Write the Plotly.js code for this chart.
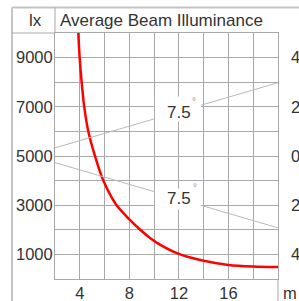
<!DOCTYPE html>
<html><head><meta charset="utf-8">
<script src="https://cdn.plot.ly/plotly-3.0.1.min.js"></script>
<style>html,body{margin:0;padding:0;background:#fff}#chart{width:299px;height:301px}</style>
</head><body><div id="chart"></div>
<script>
// Distance (m) and average beam illuminance (lx)
const distance = [3.88, 3.99, 4.15, 4.36, 4.69, 5.2, 5.9, 6.9, 8.05, 8.9, 9.67, 10.47, 12, 14, 16, 18, 20];
const illuminance = [10000, 9000, 8000, 7000, 6000, 5050, 4000, 3050, 2400, 1990, 1670, 1400, 1020, 740, 570, 505, 484];
// Beam edges (m, right axis)
const beamX = [2, 20];
const beamUpper = [0.33, 2.98];
const beamLower = [-0.27, -2.92];
const beamAngle = '7.5';
// Ticks
const xTickVals = [2, 4, 6, 8, 10, 12, 14, 16, 18, 20];
const xTickText = ['', '4', '', '8', '', '12', '', '16', '', ''];
const yTickVals = [0, 1000, 2000, 3000, 4000, 5000, 6000, 7000, 8000, 9000, 10000];
const yTickText = ['', '1000', '', '3000', '', '5000', '', '7000', '', '9000', ''];
const y2TickVals = [-4, -2, 0, 2, 4];
const y2TickText = ['4', '2', '0', '2', '4'];

const FONT = 'Liberation Sans, Arial, sans-serif';
const GRID = '#a9a9a9';
const TXT = '#333333';

const traces = [
  {x: beamX, y: beamUpper, yaxis: 'y2', mode: 'lines', line: {color: '#b8b8b8', width: 1}, hoverinfo: 'skip'},
  {x: beamX, y: beamLower, yaxis: 'y2', mode: 'lines', line: {color: '#b8b8b8', width: 1}, hoverinfo: 'skip'},
  {x: distance, y: illuminance, mode: 'lines', line: {color: '#ff0000', width: 2.5, shape: 'spline', smoothing: 0.8}, hoverinfo: 'skip'}
];

const px = v => (v - 55) / 223;
const py = v => (279 - v) / 246;

const layout = {
  width: 299, height: 301,
  margin: {l: 55, r: 21, t: 33, b: 22, pad: 0},
  paper_bgcolor: '#fff', plot_bgcolor: '#fff',
  showlegend: false,
  font: {family: FONT, color: TXT, size: 16},
  xaxis: {
    range: [2, 20], tickvals: xTickVals, ticktext: xTickText,
    showgrid: true, gridcolor: GRID, gridwidth: 1, zeroline: false,
    showline: true, mirror: true, linecolor: GRID, linewidth: 1,
    ticks: '', ticklabelstandoff: -1,
    tickfont: {family: FONT, size: 16.5, color: TXT}, fixedrange: true
  },
  yaxis: {
    range: [0, 10000], tickvals: yTickVals, ticktext: yTickText,
    showgrid: true, gridcolor: GRID, gridwidth: 1, zeroline: false,
    showline: true, mirror: true, linecolor: GRID, linewidth: 1,
    ticks: '', ticklabelstandoff: -2,
    tickfont: {family: FONT, size: 16.5, color: TXT}, fixedrange: true
  },
  yaxis2: {
    overlaying: 'y', side: 'right', range: [-5, 5],
    tickvals: y2TickVals, ticktext: y2TickText,
    showgrid: false, zeroline: false, showline: false,
    ticks: '', ticklabelstandoff: 12,
    tickfont: {family: FONT, size: 16.5, color: TXT}, fixedrange: true
  },
  shapes: [
    {type: 'line', xref: 'paper', yref: 'paper', x0: px(12), x1: px(299), y0: py(7.5), y1: py(7.5), line: {color: '#c4c4c4', width: 2}},
    {type: 'line', xref: 'paper', yref: 'paper', x0: px(12), x1: px(12), y0: py(7.5), y1: py(301), line: {color: '#c4c4c4', width: 2}},
    {type: 'line', xref: 'paper', yref: 'paper', x0: 0, x1: 0, y0: 1, y1: py(7.5), line: {color: GRID, width: 1}},
    {type: 'line', xref: 'paper', yref: 'paper', x0: px(12), x1: 0, y0: 1, y1: 1, line: {color: GRID, width: 1}},
    {type: 'line', xref: 'paper', yref: 'paper', x0: 1, x1: 1, y0: 0, y1: py(301), line: {color: GRID, width: 1}},
    {type: 'rect', xref: 'x', yref: 'y2', x0: 10.07, x1: 13.78, y0: 1.41, y1: 2.42, fillcolor: '#fff', line: {width: 0}, layer: 'above'},
    {type: 'rect', xref: 'x', yref: 'y2', x0: 10.07, x1: 13.78, y0: -2.17, y1: -1.32, fillcolor: '#fff', line: {width: 0}, layer: 'above'}
  ],
  annotations: [
    {xref: 'paper', yref: 'paper', x: px(58), y: py(20), xanchor: 'left', yanchor: 'middle', text: 'Average Beam Illuminance', showarrow: false, font: {family: FONT, size: 17, color: TXT}},
    {xref: 'paper', yref: 'paper', x: px(35), y: py(20), xanchor: 'center', yanchor: 'middle', text: 'lx', showarrow: false, font: {family: FONT, size: 17, color: TXT}},
    {xref: 'paper', yref: 'paper', x: px(290), y: py(292.5), xanchor: 'center', yanchor: 'middle', text: 'm', showarrow: false, font: {family: FONT, size: 16.5, color: TXT}},
    {xref: 'x', yref: 'y2', x: 12.0, y: 1.75, xanchor: 'center', yanchor: 'middle', text: beamAngle, showarrow: false, font: {family: FONT, size: 17, color: TXT}},
    {xref: 'x', yref: 'y2', x: 12.0, y: -1.74, xanchor: 'center', yanchor: 'middle', text: beamAngle, showarrow: false, font: {family: FONT, size: 17, color: TXT}},
    {xref: 'x', yref: 'y2', x: 13.2, y: 2.23, xanchor: 'center', yanchor: 'middle', text: '°', showarrow: false, font: {family: FONT, size: 10, color: '#999'}},
    {xref: 'x', yref: 'y2', x: 13.3, y: -1.29, xanchor: 'center', yanchor: 'middle', text: '°', showarrow: false, font: {family: FONT, size: 10, color: '#999'}}
  ]
};

Plotly.newPlot('chart', traces, layout, {staticPlot: true, displayModeBar: false});
</script></body></html>
